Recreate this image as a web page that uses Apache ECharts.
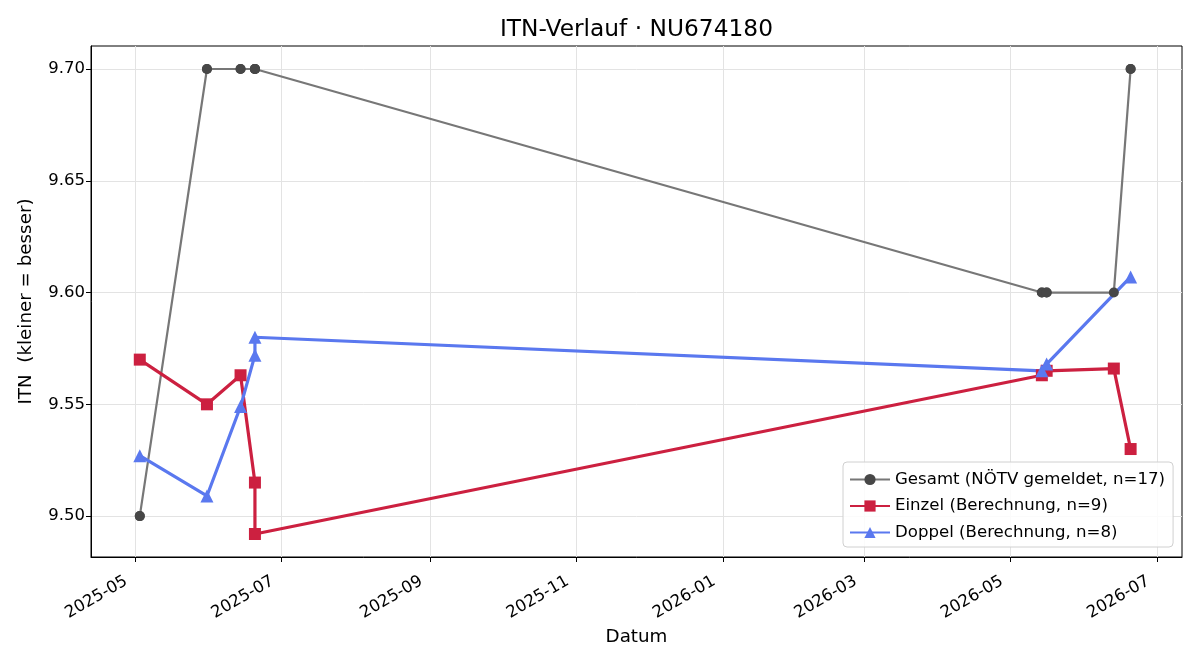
<!DOCTYPE html>
<html>
<head>
<meta charset="utf-8">
<script src="https://cdn.jsdelivr.net/npm/echarts@6/dist/echarts.min.js"></script>
<style>
  html, body { margin: 0; padding: 0; background: #fff; }
  #chart { width: 1200px; height: 660px; }
</style>
</head>
<body>
<div id="chart"></div>
<script>
// values
var gesamtDates = ['2025-05-03', '2025-05-03', '2025-05-31', '2025-05-31', '2025-06-14', '2025-06-14',
    '2025-06-20', '2025-06-20', '2025-06-20', '2025-06-20', '2026-05-14', '2026-05-14',
    '2026-05-16', '2026-05-16', '2026-06-13', '2026-06-20', '2026-06-20'];
var gesamtValues = [9.50, 9.50, 9.70, 9.70, 9.70, 9.70, 9.70, 9.70, 9.70, 9.70,
    9.60, 9.60, 9.60, 9.60, 9.60, 9.70, 9.70];

var einzelDates = ['2025-05-03', '2025-05-31', '2025-06-14', '2025-06-20', '2025-06-20',
    '2026-05-14', '2026-05-16', '2026-06-13', '2026-06-20'];
var einzelValues = [9.570, 9.550, 9.563, 9.515, 9.492, 9.563, 9.565, 9.566, 9.530];

var doppelDates = ['2025-05-03', '2025-05-31', '2025-06-14', '2025-06-20', '2025-06-20',
    '2026-05-14', '2026-05-16', '2026-06-20'];
var doppelValues = [9.527, 9.509, 9.549, 9.572, 9.580, 9.565, 9.568, 9.607];

var xTickLabels = ['2025-05', '2025-07', '2025-09', '2025-11', '2026-01', '2026-03', '2026-05', '2026-07'];
var yTickValues = [9.50, 9.55, 9.60, 9.65, 9.70];

var seriesNames = ['Gesamt (NÖTV gemeldet, n=17)', 'Einzel (Berechnung, n=9)', 'Doppel (Berechnung, n=8)'];

function ts(d) { return Date.parse(d); }
function pairs(dates, values) {
    return dates.map(function (d, i) { return [ts(d), values[i]]; });
}

// dates as UTC timestamps on a plain value axis
var xTicks = xTickLabels.map(function (m) { return ts(m + '-01'); });
var font = 'DejaVu Sans';

var chart = echarts.init(document.getElementById('chart'), null, { renderer: 'canvas' });

var option = {
    backgroundColor: '#fff',
    animation: false,
    textStyle: { fontFamily: font },
    title: {
        text: 'ITN-Verlauf · NU674180',
        left: 495,
        top: 13,
        textStyle: { fontFamily: font, fontSize: 23.3, fontWeight: 'normal', color: '#000' }
    },
    grid: {
        left: 91, right: 18, top: 46, bottom: 103,
        show: true, borderColor: '#000', borderWidth: 1
    },
    legend: {
        orient: 'vertical',
        left: 843,
        top: 462,
        padding: [9, 8, 6, 6],
        itemGap: 9.5,
        itemWidth: 40,
        itemHeight: 14,
        backgroundColor: 'rgba(255,255,255,0.85)',
        borderColor: '#d0d0d0',
        borderWidth: 1,
        borderRadius: 4,
        textStyle: { fontFamily: font, fontSize: 16.6, color: '#000' },
        data: seriesNames
    },
    xAxis: {
        type: 'value',
        min: ts('2025-04-12T16:00:00Z'),
        max: ts('2026-07-11T10:00:00Z'),
        name: 'Datum',
        nameLocation: 'middle',
        nameGap: 65,
        nameTextStyle: { fontFamily: font, fontSize: 18.3, color: '#000' },
        axisLine: { onZero: false, lineStyle: { color: '#000', width: 1 } },
        axisTick: { show: true, length: 5, customValues: xTicks, lineStyle: { color: '#000' } },
        axisLabel: {
            customValues: xTicks,
            rotate: 30,
            margin: 18,
            padding: [0, 10, 0, 0],
            fontFamily: font,
            fontSize: 16.5,
            color: '#000',
            hideOverlap: false,
            formatter: function (v) {
                var i = xTicks.indexOf(v);
                return i >= 0 ? xTickLabels[i] : '';
            }
        },
        splitLine: { show: true, lineStyle: { color: '#e3e3e3', width: 1 } }
    },
    yAxis: {
        type: 'value',
        min: 9.4817,
        max: 9.7103,
        name: 'ITN  (kleiner = besser)',
        nameLocation: 'middle',
        nameGap: 56,
        nameTextStyle: { fontFamily: font, fontSize: 18.3, color: '#000' },
        axisLine: { show: true, lineStyle: { color: '#000', width: 1 } },
        axisTick: { show: true, length: 5, customValues: yTickValues, lineStyle: { color: '#000' } },
        axisLabel: {
            customValues: yTickValues,
            margin: 6,
            fontFamily: font,
            fontSize: 16.5,
            color: '#000',
            formatter: function (v) { return v.toFixed(2); }
        },
        splitLine: { show: true, lineStyle: { color: '#e3e3e3', width: 1 } }
    },
    series: [
        {
            name: seriesNames[0],
            type: 'line',
            data: pairs(gesamtDates, gesamtValues),
            symbol: 'circle',
            symbolSize: 10,
            lineStyle: { color: '#777777', width: 2.2 },
            itemStyle: { color: '#474747' }
        },
        {
            name: seriesNames[1],
            type: 'line',
            data: pairs(einzelDates, einzelValues),
            symbol: 'rect',
            symbolSize: 12,
            lineStyle: { color: '#cc2040', width: 3.2 },
            itemStyle: { color: '#cc2040' }
        },
        {
            name: seriesNames[2],
            type: 'line',
            data: pairs(doppelDates, doppelValues),
            symbol: 'triangle',
            symbolSize: 13,
            lineStyle: { color: '#5a78ef', width: 3.2 },
            itemStyle: { color: '#5a78ef' }
        }
    ]
};

chart.setOption(option);
</script>
</body>
</html>
